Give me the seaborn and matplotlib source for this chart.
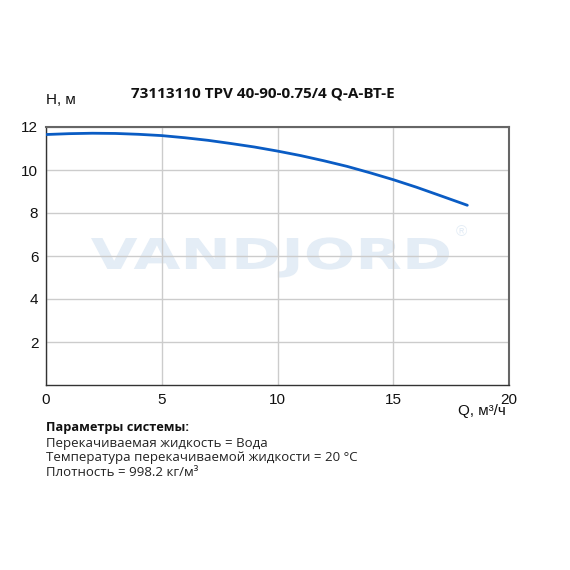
import numpy as np
import pandas as pd
import matplotlib
matplotlib.use("Agg")
import matplotlib.pyplot as plt
import seaborn as sns
from matplotlib.textpath import TextPath
from matplotlib.patches import PathPatch
from matplotlib.font_manager import FontProperties
from matplotlib.transforms import Affine2D

# ==============================
# DATA
# ==============================

q_values = [0, 1, 2, 3, 4, 5, 6, 7, 8, 9, 10, 11, 12, 13, 14, 15, 16, 17, 18.2]
h_values = [11.65, 11.69, 11.71, 11.70, 11.66, 11.60, 11.50, 11.38, 11.23, 11.07,
            10.88, 10.67, 10.43, 10.17, 9.87, 9.55, 9.20, 8.82, 8.36]

x_ticks = [0, 5, 10, 15, 20]
y_ticks = [2, 4, 6, 8, 10, 12]

title = "73113110 TPV 40-90-0.75/4 Q-A-BT-E"
params_lines = [
    "Перекачиваемая жидкость = Вода",
    "Температура перекачиваемой жидкости = 20 °C",
    "Плотность = 998.2 кг/м³",
]

df = pd.DataFrame({"Q": q_values, "H": h_values})

# ==============================
# PLOT
# ==============================

sns.set_style("white")
plt.rcParams["font.family"] = ["Liberation Sans", "DejaVu Sans"]

fig = plt.figure(figsize=(5.7, 5.7), dpi=100)
ax = fig.add_axes([46 / 570, 1 - 385 / 570, 463 / 570, 258 / 570])

# watermark behind the axes, stretched wide (pixel space)
wm_font = FontProperties(family="DejaVu Sans", weight="bold")
wm_path = TextPath((0, 0), "VANDJORD", size=40, prop=wm_font)
cap = TextPath((0, 0), "VAND", size=40, prop=wm_font).get_extents()
ext = wm_path.get_extents()
sx = 358 / ext.width
sy = 31 / cap.height
wm_tr = (Affine2D().translate(-ext.x0, 0).scale(sx, sy)
         .translate(91, 570 - 269))
fig.patches.append(PathPatch(wm_path, transform=wm_tr, facecolor="#e4edf6",
                             edgecolor="none", zorder=-1))
fig.text(461 / 570, 1 - 232 / 570, "®", ha="center", va="center", fontsize=11,
         color="#e4edf6", zorder=-1)

sns.lineplot(data=df, x="Q", y="H", ax=ax, color="#0a5cc4", linewidth=2.0, zorder=3)
ax.patch.set_alpha(0)

ax.set_xlim(0, 20)
ax.set_ylim(0, 12)
ax.set_xticks(x_ticks)
ax.set_yticks(y_ticks)
ax.grid(True, color="#cccccc", linewidth=1.0)
ax.set_axisbelow(True)
ax.set_xlabel("")
ax.set_ylabel("")
ax.tick_params(axis="both", labelsize=11, length=4, width=1, color="#333333",
               pad=1.5, labelcolor="#111111")

for side in ["top", "right"]:
    ax.spines[side].set_color("#666666")
    ax.spines[side].set_linewidth(1.5)
for side in ["left", "bottom"]:
    ax.spines[side].set_color("#333333")
    ax.spines[side].set_linewidth(1.0)

fig.text(263 / 570, 1 - 93 / 570, title, ha="center", va="center",
         fontsize=11, fontweight="bold", family="Open Sans", color="#111111")
fig.text(46 / 570, 1 - 100 / 570, "H, м", ha="left", va="center",
         fontsize=11, color="#111111")
fig.text(506 / 570, 1 - 411 / 570, "Q, м³/ч", ha="right", va="center",
         fontsize=11, color="#111111")

fig.text(46 / 570, 1 - 428 / 570, "Параметры системы:", ha="left", va="center",
         fontsize=9.2, fontweight="bold", family="Open Sans", color="#111111")
for i, line in enumerate(params_lines):
    fig.text(46 / 570, 1 - (443 + 15 * i) / 570, line, ha="left", va="center",
             fontsize=9.5, family="Open Sans", color="#222222")

fig.savefig("out.png", dpi=100, facecolor="white")
